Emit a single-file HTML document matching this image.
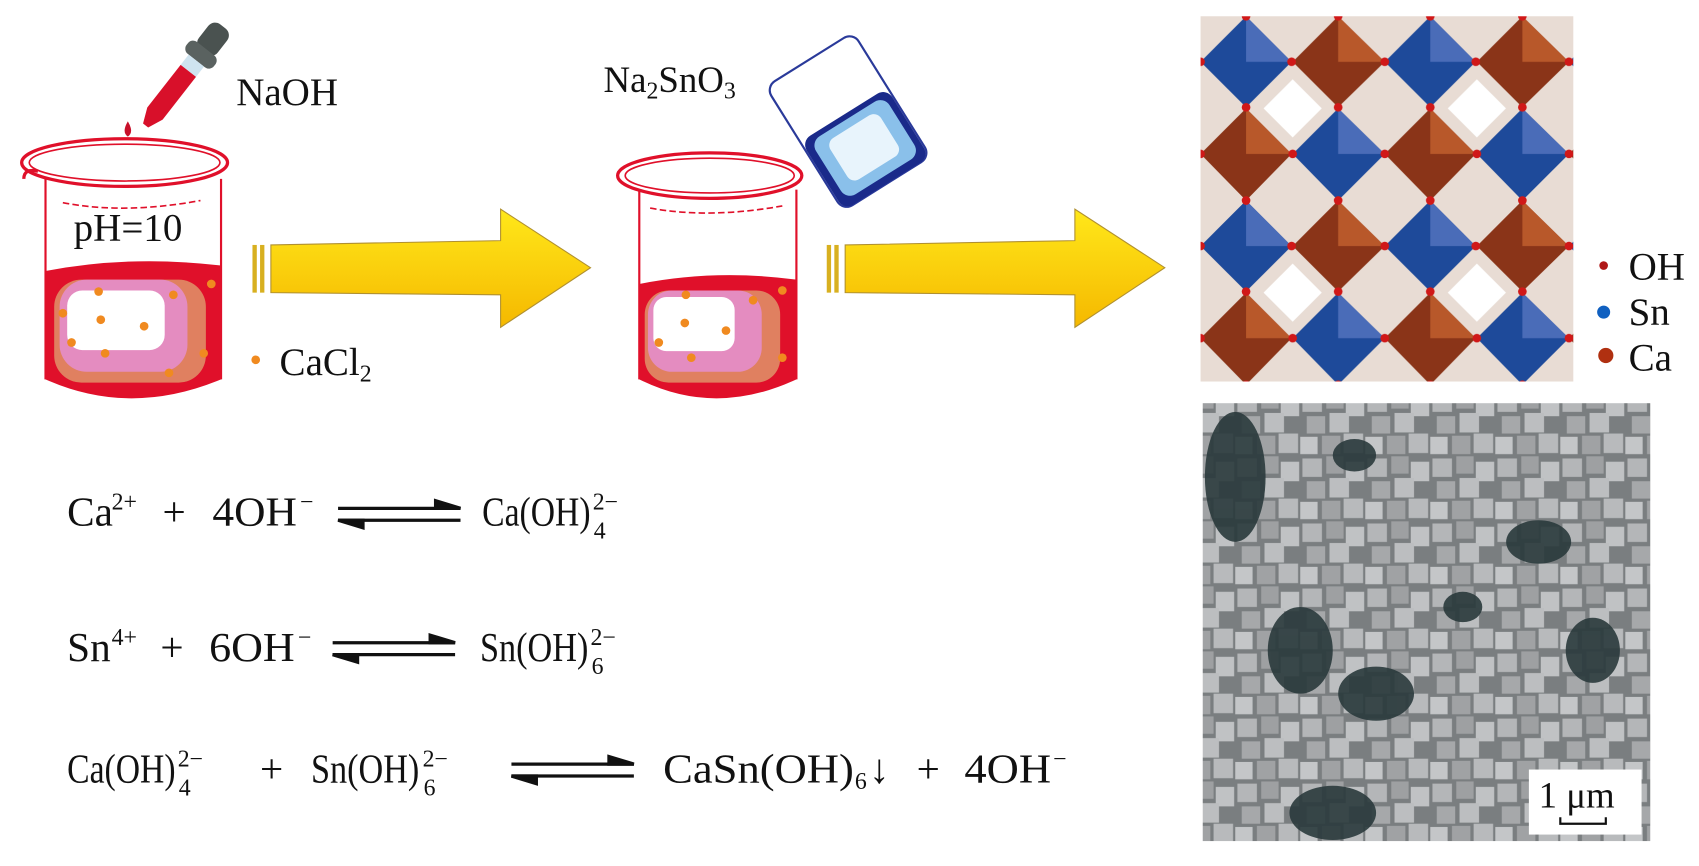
<!DOCTYPE html>
<html><head><meta charset="utf-8"><style>
html,body{margin:0;padding:0;background:#fff;width:1699px;height:866px;overflow:hidden}
svg{display:block}
text{font-family:"Liberation Serif",serif;fill:#111}
</style></head><body>
<svg width="1699" height="866" viewBox="0 0 1568 799" preserveAspectRatio="none" xmlns="http://www.w3.org/2000/svg">
<defs>
<linearGradient id="yel" x1="0" y1="0" x2="0" y2="1"><stop offset="0" stop-color="#ffe81a"/><stop offset="1" stop-color="#f5b800"/></linearGradient>
<pattern id="latt" x="1108" y="15" width="170" height="170" patternUnits="userSpaceOnUse">
<rect width="170" height="170" fill="#e8dcd4"/>
<polygon points="42,0 84,42 42,84 0,42" fill="#1e4a9a"/>
<polygon points="127,0 170,42 127,84 85,42" fill="#8a3418"/>
<polygon points="42,85 84,127 42,170 0,127" fill="#8a3418"/>
<polygon points="127,85 170,127 127,170 85,127" fill="#1e4a9a"/>
<polygon points="42,0 84,42 42,42" fill="#4a6cb8"/>
<polygon points="127,0 170,42 127,42" fill="#b8582a"/>
<polygon points="42,85 84,127 42,127" fill="#b8582a"/>
<polygon points="127,85 170,127 127,127" fill="#4a6cb8"/>
<rect x="66" y="66" width="38" height="38" fill="#fff" transform="rotate(45 85 85)"/>
<g fill="#d01818"><circle cx="42" cy="0" r="4"/><circle cx="0" cy="42" r="4"/><circle cx="84" cy="42" r="4"/><circle cx="42" cy="84" r="4"/><circle cx="127" cy="0" r="4"/><circle cx="127" cy="84" r="4"/><circle cx="170" cy="42" r="4"/><circle cx="0" cy="127" r="4"/><circle cx="85" cy="127" r="4"/><circle cx="42" cy="170" r="4"/><circle cx="127" cy="170" r="4"/><circle cx="170" cy="127" r="4"/></g>
</pattern>
<pattern id="sem" x="0" y="0" width="60" height="60" patternUnits="userSpaceOnUse">
<rect width="60" height="60" fill="#7a7e80"/>
<rect x="2" y="3" width="18" height="17" fill="#b4b6b8"/>
<rect x="24" y="1" width="16" height="16" fill="#9ea0a2"/>
<rect x="42" y="6" width="17" height="18" fill="#c0c2c4"/>
<rect x="6" y="24" width="17" height="16" fill="#a6a8aa"/>
<rect x="27" y="21" width="18" height="18" fill="#bcbec0"/>
<rect x="0" y="43" width="16" height="16" fill="#c4c6c8"/>
<rect x="20" y="42" width="17" height="17" fill="#a0a2a4"/>
<rect x="40" y="40" width="18" height="18" fill="#b8babc"/>
</pattern>
</defs>

<!-- Dropper -->
<g transform="rotate(38 165 75)">
<rect x="155" y="10" width="22" height="30" rx="8" fill="#4a5250"/>
<rect x="150" y="36" width="32" height="14" rx="6" fill="#5a6260"/>
<rect x="157" y="50" width="18" height="12" fill="#cfe4f0"/>
<path d="M157 62 h18 v50 l-6 14 h-6 l-6 -14z" fill="#d8102a"/>
</g>
<path d="M118 112 q-6 10 0 14 q6 -4 0 -14z" fill="#c8102a"/>
<text x="218" y="97" font-size="36">NaOH</text>

<!-- Beaker 1 -->
<path d="M42 250 L42 350 Q120 385 204 350 L204 245 Q120 235 42 250z" fill="#e0102a"/>
<rect x="50" y="258" width="140" height="95" rx="25" fill="#e08060"/>
<rect x="55" y="258" width="118" height="85" rx="25" fill="#e48cc0"/>
<rect x="62" y="268" width="90" height="55" rx="14" fill="#fff"/>
<path d="M42 165 L42 350 M204 165 L204 350" stroke="#e0102a" stroke-width="2" fill="none"/>
<ellipse cx="115" cy="150" rx="95" ry="22" fill="none" stroke="#e0102a" stroke-width="3"/>
<ellipse cx="115" cy="150" rx="88" ry="17" fill="none" stroke="#e0102a" stroke-width="1.5"/>
<path d="M22 165 Q22 155 35 158" stroke="#e0102a" stroke-width="3" fill="none"/>
<path d="M58 187 Q115 198 185 185" stroke="#e0102a" stroke-width="1.5" stroke-dasharray="6 3" fill="none"/>
<g fill="#f08a20"><circle cx="91" cy="269" r="4"/><circle cx="160" cy="272" r="4"/><circle cx="58" cy="289" r="4"/><circle cx="93" cy="295" r="4"/><circle cx="133" cy="301" r="4"/><circle cx="66" cy="316" r="4"/><circle cx="97" cy="326" r="4"/><circle cx="188" cy="326" r="4"/><circle cx="156" cy="344" r="4"/><circle cx="195" cy="262" r="4"/><circle cx="236" cy="332" r="4"/></g>
<text x="68" y="222" font-size="36">pH=10</text>
<text x="258" y="346" font-size="36">CaCl<tspan font-size="22" dy="6">2</tspan></text>

<!-- Arrow 1 -->
<path d="M250 226 L462 222 L462 193 L545 247 L462 302 L462 272 L250 270z" fill="url(#yel)" stroke="#b09030" stroke-width="1"/>
<rect x="233" y="226" width="4" height="44" fill="#d8b020"/><rect x="240" y="226" width="4" height="44" fill="#d8b020"/>

<!-- Beaker 2 -->
<path d="M590 262 L590 350 Q660 385 735 350 L735 258 Q660 248 590 262z" fill="#e0102a"/>
<rect x="595" y="268" width="125" height="85" rx="22" fill="#e08060"/>
<rect x="598" y="268" width="105" height="75" rx="22" fill="#e48cc0"/>
<rect x="603" y="274" width="75" height="50" rx="12" fill="#fff"/>
<path d="M590 175 L590 350 M735 175 L735 350" stroke="#e0102a" stroke-width="2" fill="none"/>
<ellipse cx="655" cy="162" rx="85" ry="21" fill="none" stroke="#e0102a" stroke-width="3"/>
<ellipse cx="655" cy="162" rx="78" ry="16" fill="none" stroke="#e0102a" stroke-width="1.5"/>
<path d="M600 192 Q655 202 722 190" stroke="#e0102a" stroke-width="1.5" stroke-dasharray="6 3" fill="none"/>
<g fill="#f08a20"><circle cx="633" cy="272" r="4"/><circle cx="695" cy="277" r="4"/><circle cx="632" cy="298" r="4"/><circle cx="670" cy="305" r="4"/><circle cx="608" cy="316" r="4"/><circle cx="638" cy="330" r="4"/><circle cx="722" cy="330" r="4"/><circle cx="722" cy="268" r="4"/></g>
<text x="557" y="85" font-size="34">Na<tspan font-size="22" dy="6">2</tspan><tspan dy="-6">SnO</tspan><tspan font-size="22" dy="6">3</tspan></text>

<!-- tilted beaker -->
<g transform="rotate(-32 782 112)">
<rect x="735" y="45" width="95" height="135" rx="10" fill="#fff" stroke="#2a3a9a" stroke-width="2"/>
<rect x="736" y="105" width="93" height="75" rx="10" fill="#1a2a8a"/>
<rect x="743" y="110" width="80" height="63" rx="10" fill="#8ac0ea"/>
<rect x="755" y="118" width="55" height="45" rx="8" fill="#e8f4fc"/>
</g>

<!-- Arrow 2 -->
<path d="M780 226 L992 222 L992 193 L1075 247 L992 302 L992 272 L780 270z" fill="url(#yel)" stroke="#b09030" stroke-width="1"/>
<rect x="763" y="226" width="4" height="44" fill="#d8b020"/><rect x="770" y="226" width="4" height="44" fill="#d8b020"/>

<!-- Crystal -->
<rect x="1108" y="15" width="344" height="337" fill="url(#latt)"/>
<circle cx="1480" cy="245" r="4" fill="#b01818"/>
<circle cx="1480" cy="288" r="6" fill="#1060c0"/>
<circle cx="1482" cy="328" r="7" fill="#b03010"/>
<text x="1503" y="258" font-size="36">OH</text>
<text x="1503" y="300" font-size="36">Sn</text>
<text x="1503" y="342" font-size="36">Ca</text>

<!-- SEM -->
<rect x="1110" y="372" width="413" height="404" fill="url(#sem)"/>
<g fill="#2a3a3c" opacity="0.9">
<ellipse cx="1140" cy="440" rx="28" ry="60"/>
<ellipse cx="1250" cy="420" rx="20" ry="15"/>
<ellipse cx="1420" cy="500" rx="30" ry="20"/>
<ellipse cx="1200" cy="600" rx="30" ry="40"/>
<ellipse cx="1270" cy="640" rx="35" ry="25"/>
<ellipse cx="1230" cy="750" rx="40" ry="25"/>
<ellipse cx="1470" cy="600" rx="25" ry="30"/>
<ellipse cx="1350" cy="560" rx="18" ry="14"/>
</g>
<rect x="1411" y="710" width="104" height="60" fill="#fff"/>
<text x="1420" y="745" font-size="34">1 μm</text>
<path d="M1440 754 v6 h42 v-6" stroke="#111" stroke-width="2" fill="none"/>

<!-- Equations -->
<g font-size="38">
<text x="62" y="485">Ca</text>
<text x="103" y="470" font-size="22">2+</text>
<text x="150" y="485">+</text>
<text x="196" y="485" textLength="78" lengthAdjust="spacingAndGlyphs">4OH</text>
<text x="277" y="470" font-size="22">−</text>
<text x="445" y="485" textLength="100" lengthAdjust="spacingAndGlyphs">Ca(OH)</text>
<text x="547" y="470" font-size="22">2−</text><text x="548" y="497" font-size="22">4</text>

<text x="62" y="610">Sn</text>
<text x="103" y="595" font-size="22">4+</text>
<text x="148" y="610">+</text>
<text x="193" y="610" textLength="79" lengthAdjust="spacingAndGlyphs">6OH</text>
<text x="275" y="595" font-size="22">−</text>
<text x="443" y="610" textLength="100" lengthAdjust="spacingAndGlyphs">Sn(OH)</text>
<text x="545" y="595" font-size="22">2−</text><text x="546" y="622" font-size="22">6</text>

<text x="62" y="722" textLength="100" lengthAdjust="spacingAndGlyphs">Ca(OH)</text>
<text x="164" y="707" font-size="22">2−</text><text x="165" y="734" font-size="22">4</text>
<text x="240" y="722">+</text>
<text x="287" y="722" textLength="100" lengthAdjust="spacingAndGlyphs">Sn(OH)</text>
<text x="390" y="707" font-size="22">2−</text><text x="391" y="734" font-size="22">6</text>
<text x="612" y="722" textLength="176" lengthAdjust="spacingAndGlyphs">CaSn(OH)</text>
<text x="789" y="728" font-size="22">6</text>
<text x="802" y="722">↓</text>
<text x="846" y="722">+</text>
<text x="890" y="722" textLength="80" lengthAdjust="spacingAndGlyphs">4OH</text>
<text x="972" y="707" font-size="22">−</text>
</g>
<g stroke="#111" stroke-width="3" fill="#111">
<line x1="312" y1="469" x2="425" y2="469"/><path d="M425 469 L402 462 L402 469z"/>
<line x1="312" y1="480" x2="425" y2="480"/><path d="M312 480 L335 487 L335 480z"/>
<line x1="307" y1="593" x2="420" y2="593"/><path d="M420 593 L397 586 L397 593z"/>
<line x1="307" y1="604" x2="420" y2="604"/><path d="M307 604 L330 611 L330 604z"/>
<line x1="472" y1="705" x2="585" y2="705"/><path d="M585 705 L562 698 L562 705z"/>
<line x1="472" y1="716" x2="585" y2="716"/><path d="M472 716 L495 723 L495 716z"/>
</g>
</svg>
</body></html>
